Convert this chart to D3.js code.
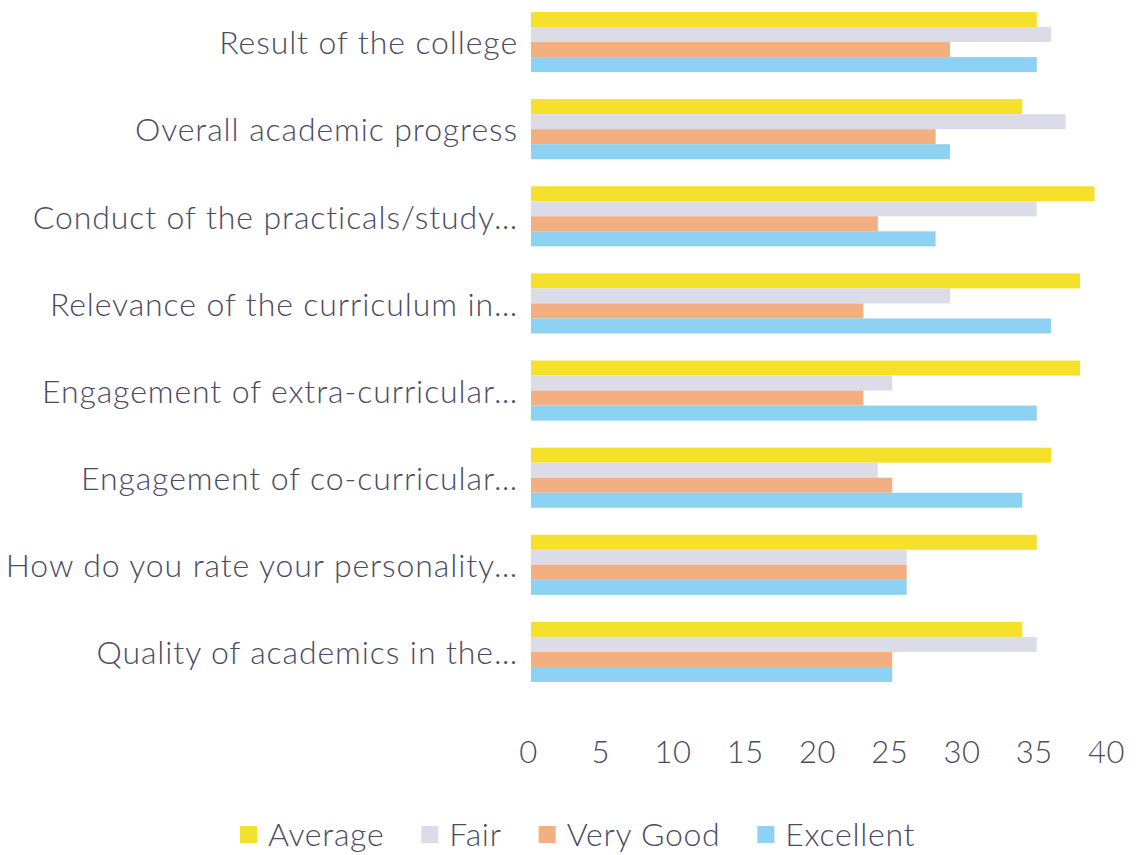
<!DOCTYPE html>
<html><head><meta charset="utf-8">
<script src="https://cdn.jsdelivr.net/npm/d3@7"></script>
<style>html,body{margin:0;padding:0;background:#fff;}svg{display:block;}</style>
</head><body>
<svg id="chart" width="1138" height="855"></svg>
<script>
const categories = [
  "Result of the college",
  "Overall academic progress",
  "Conduct of the practicals/study…",
  "Relevance of the curriculum in…",
  "Engagement of extra-curricular…",
  "Engagement of co-curricular…",
  "How do you rate your personality…",
  "Quality of academics in the…"
];
const seriesNames = ["Average", "Fair", "Very Good", "Excellent"];
const average   = [35, 34, 39, 38, 38, 36, 35, 34];
const fair      = [36, 37, 35, 29, 25, 24, 26, 35];
const veryGood  = [29, 28, 24, 23, 23, 25, 26, 25];
const excellent = [35, 29, 28, 36, 35, 34, 26, 25];
const xTicks = [0, 5, 10, 15, 20, 25, 30, 35, 40];
const colors = ["#f5e12c", "#dcdce9", "#f3af80", "#8dd1f3"];

const seriesValues = [average, fair, veryGood, excellent];
const svg = d3.select("#chart");
const font = "Lato, 'Open Sans', sans-serif";
const textColor = "#4a4a64";

const x = d3.scaleLinear().domain([0, 40]).range([531, 1109]);
const y = d3.scaleBand().domain(categories).range([-1.5, 695.5]).paddingInner(0.31).paddingOuter(0.155);
const ys = d3.scaleBand().domain(seriesNames).range([0, y.bandwidth()]);

const groups = svg.append("g").selectAll("g").data(categories).join("g")
  .attr("transform", d => `translate(0,${y(d)})`);
groups.selectAll("rect")
  .data((c, i) => seriesNames.map((s, j) => ({s, j, v: seriesValues[j][i]})))
  .join("rect")
  .attr("x", x(0))
  .attr("y", d => ys(d.s))
  .attr("width", d => x(d.v) - x(0))
  .attr("height", ys.bandwidth())
  .attr("fill", d => colors[d.j]);

// category axis (labels only)
const yAxis = d3.axisLeft(y).tickSize(0).tickPadding(0);
const gy = svg.append("g").attr("transform", "translate(518,2)").call(yAxis);
gy.select(".domain").remove();
gy.selectAll("text").attr("font-family", font).attr("font-size", 32).attr("font-weight", 300)
  .attr("letter-spacing", "0.9px").attr("fill", textColor);

// value axis (labels only)
const xAxis = d3.axisBottom(x).tickValues(xTicks).tickSize(0).tickPadding(0);
const gx = svg.append("g").attr("transform", "translate(-3,741)").call(xAxis);
gx.select(".domain").remove();
gx.selectAll("text").attr("font-family", font).attr("font-size", 31).attr("font-weight", 300)
  .attr("letter-spacing", "0.5px").attr("fill", textColor);

// legend
const legend = svg.append("g").attr("transform", "translate(240,835)");
let lx = 0;
seriesNames.forEach((s, j) => {
  legend.append("rect").attr("x", lx).attr("y", -9).attr("width", 17).attr("height", 17).attr("fill", colors[j]);
  const t = legend.append("text").attr("x", lx + 28).attr("y", 0).attr("dy", "0.35em")
    .attr("font-family", font).attr("font-size", 32).attr("font-weight", 300)
    .attr("letter-spacing", "0.7px").attr("fill", textColor).text(s);
  lx += 28 + t.node().getComputedTextLength() + 37;
});
</script>
</body></html>
